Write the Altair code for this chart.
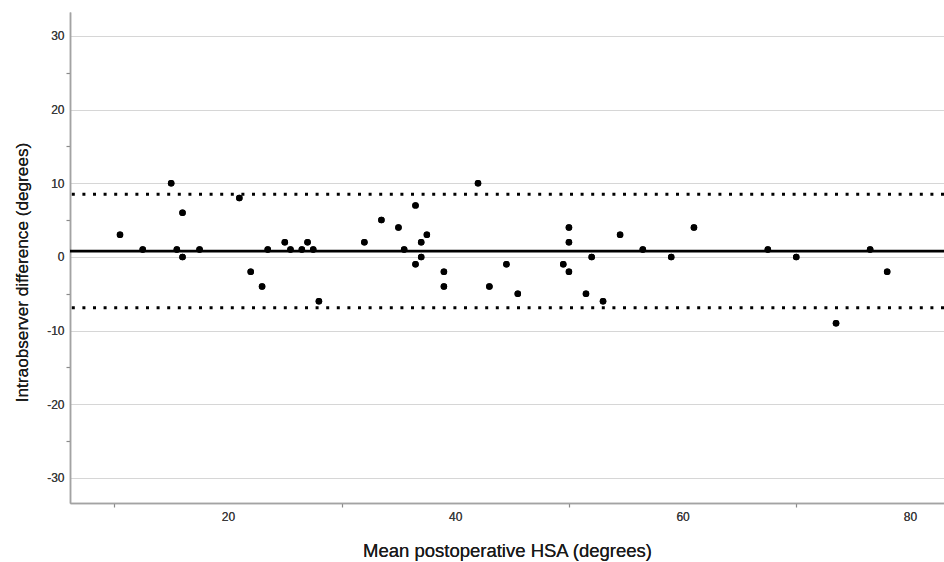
import altair as alt
import pandas as pd

# Bland-Altman data
mean_hsa = [10.5, 12.5, 15.0, 15.5, 16.0, 16.0, 17.5, 21.0, 22.0, 23.0, 23.5, 25.0,
            25.5, 26.5, 27.0, 27.5, 28.0, 32.0, 33.5, 35.0, 35.5, 36.5, 36.5, 37.0,
            37.0, 37.5, 39.0, 39.0, 42.0, 43.0, 44.5, 45.5, 49.5, 50.0, 50.0, 50.0,
            51.5, 52.0, 53.0, 54.5, 56.5, 59.0, 61.0, 67.5, 70.0, 73.5, 76.5, 78.0]
difference = [3, 1, 10, 1, 6, 0, 1, 8, -2, -4, 1, 2,
              1, 1, 2, 1, -6, 2, 5, 4, 1, 7, -1, 2,
              0, 3, -2, -4, 10, -4, -1, -5, -1, 4, 2, -2,
              -5, 0, -6, 3, 1, 0, 4, 1, 0, -9, 1, -2]
bias = [0.8]
limits = [8.5, -6.9]

x_label_values = [20, 40, 60, 80]
x_tick_values = [10, 30, 50, 70]
y_label_values = [-30, -20, -10, 0, 10, 20, 30]
y_tick_values = [-25, -15, -5, 5, 15, 25]

df = pd.DataFrame({"mean": mean_hsa, "diff": difference})
bias_df = pd.DataFrame({"y": bias})
loa_df = pd.DataFrame({"y": limits})

x_scale = alt.Scale(domain=[6.1, 83.0], nice=False, zero=False)
y_scale = alt.Scale(domain=[-33.4, 33.25], nice=False, zero=False)

FONT = "Liberation Sans"

x_label_axis = alt.Axis(
    orient="bottom", values=x_label_values, ticks=False, grid=False,
    domain=True, domainColor="#a3a3a3", domainWidth=1.5,
    labelFontSize=12, labelColor="#3a3a3a", labelPadding=8, labelFont=FONT,
    labelExpr="toString(datum.value)",
    title="Mean postoperative HSA (degrees)", titleFontSize=18.5,
    titleFontWeight="normal", titleColor="#1a1a1a", titleFont=FONT,
    titleX=437, titleY=53, titleAlign="center", titleBaseline="alphabetic",
)
y_label_axis = alt.Axis(
    orient="left", values=y_label_values, ticks=False, grid=True,
    gridColor="#d6d6d6", gridWidth=1,
    domain=True, domainColor="#a3a3a3", domainWidth=1.5,
    labelFontSize=12, labelColor="#3a3a3a", labelPadding=6, labelFont=FONT,
    labelExpr="toString(datum.value)",
    title="Intraobserver difference (degrees)", titleFontSize=17.2,
    titleFontWeight="normal", titleColor="#1a1a1a", titleFont=FONT,
    titleX=-48, titleY=260, titleAlign="center", titleBaseline="middle",
    titleAngle=270,
)
x_tick_axis = alt.Axis(
    orient="bottom", values=x_tick_values, ticks=True, tickSize=4,
    tickColor="#8a8a8a", tickWidth=1.2, labels=False, grid=False, domain=False,
    aria=False,
)
y_tick_axis = alt.Axis(
    orient="left", values=y_tick_values, ticks=True, tickSize=4,
    tickColor="#8a8a8a", tickWidth=1.2, labels=False, grid=False, domain=False,
    aria=False,
)

points = alt.Chart(df).mark_circle(size=42, color="black", opacity=1).encode(
    x=alt.X("mean:Q", scale=x_scale, axis=x_label_axis),
    y=alt.Y("diff:Q", scale=y_scale, axis=y_label_axis),
)

ticks_layer = alt.Chart(df).mark_point(opacity=0).encode(
    x=alt.X("mean:Q", scale=x_scale, axis=x_tick_axis, title=None),
    y=alt.Y("diff:Q", scale=y_scale, axis=y_tick_axis, title=None),
)

loa_rules = alt.Chart(loa_df).mark_rule(
    color="black", strokeWidth=3, strokeDash=[3, 7.6], strokeCap="butt"
).encode(y=alt.Y("y:Q", scale=y_scale))

bias_rule = alt.Chart(bias_df).mark_rule(color="black", strokeWidth=2.8).encode(
    y=alt.Y("y:Q", scale=y_scale)
)

chart = alt.layer(points, ticks_layer, loa_rules, bias_rule, points).resolve_axis(
    x="independent", y="independent"
).properties(
    width=874, height=491,
    padding={"left": 70, "top": 12, "right": 0, "bottom": 59},
    autosize=alt.AutoSizeParams(type="none"),
    background="white",
).configure_view(stroke="transparent")

chart.save("out.html", embed_options={"renderer": "svg", "actions": False})
